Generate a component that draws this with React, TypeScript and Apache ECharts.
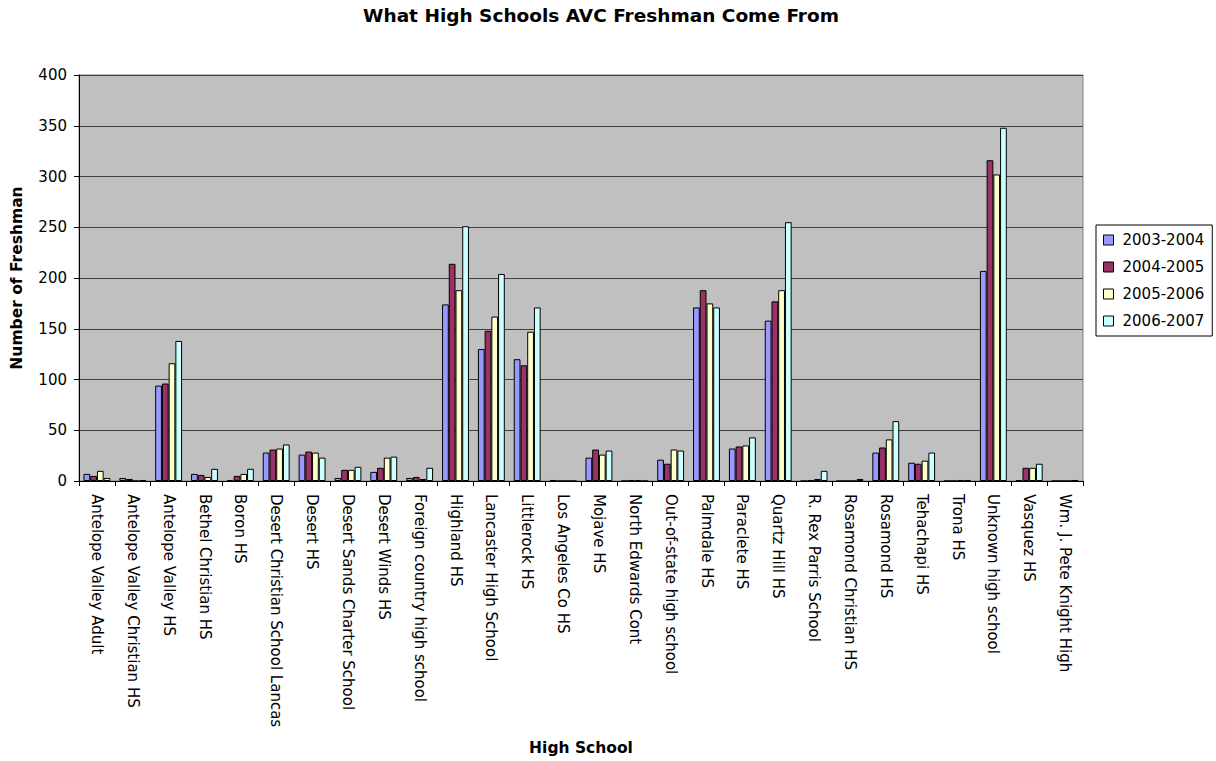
import React, { useEffect, useRef } from "react";
import * as echarts from "echarts";

const categories = [
  "Antelope Valley Adult",
  "Antelope Valley Christian HS",
  "Antelope Valley HS",
  "Bethel Christian HS",
  "Boron HS",
  "Desert Christian School Lancas",
  "Desert HS",
  "Desert Sands Charter School",
  "Desert Winds HS",
  "Foreign country high school",
  "Highland HS",
  "Lancaster High School",
  "Littlerock HS",
  "Los Angeles Co HS",
  "Mojave HS",
  "North Edwards Cont",
  "Out-of-state high school",
  "Palmdale HS",
  "Paraclete HS",
  "Quartz Hill HS",
  "R. Rex Parris School",
  "Rosamond Christian HS",
  "Rosamond HS",
  "Tehachapi HS",
  "Trona HS",
  "Unknown high school",
  "Vasquez HS",
  "Wm. J. Pete Knight High",
];

const s2003 = [7, 3, 94, 7, 1, 28, 26, 3, 9, 3, 174, 130, 120, 1, 23, 0, 21, 171, 32, 158, 0, 0, 28, 18, 0, 207, 1, 0];
const s2004 = [5, 2, 96, 6, 5, 31, 29, 11, 13, 4, 214, 148, 114, 0, 31, 1, 17, 188, 34, 177, 1, 0, 33, 17, 0, 316, 13, 0];
const s2005 = [10, 0, 116, 4, 7, 32, 28, 11, 23, 2, 188, 162, 147, 0, 26, 1, 31, 175, 35, 188, 2, 0, 41, 20, 1, 302, 13, 0];
const s2006 = [3, 1, 138, 12, 12, 36, 23, 14, 24, 13, 251, 204, 171, 0, 30, 0, 30, 171, 43, 255, 10, 2, 59, 28, 1, 348, 17, 1];

const seriesNames = ["2003-2004", "2004-2005", "2005-2006", "2006-2007"];
const seriesColors = ["#9999FF", "#993366", "#FFFFCC", "#CCFFFF"];
const seriesData = [s2003, s2004, s2005, s2006];

const FONT = "DejaVu Sans";

export default function App() {
  const ref = useRef<HTMLDivElement>(null);
  useEffect(() => {
    document.body.style.margin = "0";
    const chart = echarts.init(ref.current!, null, { renderer: "svg" });
    chart.setOption({
      animation: false,
      backgroundColor: "#FFFFFF",
      title: {
        text: "What High Schools AVC Freshman Come From",
        left: 596,
        textAlign: "center",
        top: 1,
        textStyle: { fontFamily: FONT, fontSize: 18.5, fontWeight: "bold", color: "#000" },
      },
      legend: {
        orient: "vertical",
        left: 1096,
        top: 225,
        backgroundColor: "#FFFFFF",
        borderColor: "#000",
        borderWidth: 1,
        borderRadius: 0,
        padding: [6, 8, 6, 7],
        itemGap: 9,
        itemWidth: 10,
        itemHeight: 10,
        icon: "rect",
        itemStyle: { borderColor: "#000", borderWidth: 1 },
        textStyle: { fontFamily: FONT, fontSize: 15, lineHeight: 18, color: "#000", padding: [0, 0, 0, 4] },
        data: seriesNames,
      },
      grid: {
        left: 79,
        right: 133,
        top: 75,
        bottom: 277,
        show: true,
        backgroundColor: "#C0C0C0",
        borderColor: "#808080",
        borderWidth: 1,
      },
      xAxis: {
        type: "category",
        data: categories,
        name: "High School",
        nameLocation: "middle",
        nameGap: 259,
        nameTextStyle: { fontFamily: FONT, fontSize: 15.5, fontWeight: "bold", color: "#000" },
        axisLine: { lineStyle: { color: "#000", width: 1 } },
        axisTick: { show: true, length: 5, lineStyle: { color: "#000" } },
        axisLabel: {
          rotate: -90,
          interval: 0,
          fontFamily: FONT,
          fontSize: 15,
          color: "#000",
          margin: 13,
        },
      },
      yAxis: {
        type: "value",
        min: 0,
        max: 400,
        interval: 50,
        name: "Number of Freshman",
        nameLocation: "middle",
        nameGap: 54,
        nameTextStyle: { fontFamily: FONT, fontSize: 15.5, fontWeight: "bold", color: "#000" },
        axisLine: { show: true, lineStyle: { color: "#000", width: 1 } },
        axisTick: { show: true, length: 5, lineStyle: { color: "#000" } },
        axisLabel: { fontFamily: FONT, fontSize: 15, color: "#000", margin: 12 },
        splitLine: { show: true, lineStyle: { color: "#404040", width: 1 } },
      },
      series: seriesNames.map((name, i) => ({
        name,
        type: "bar",
        data: seriesData[i],
        barGap: "0%",
        barCategoryGap: "25%",
        itemStyle: { color: seriesColors[i], borderColor: "#000", borderWidth: 1 },
      })),
    });
    return () => chart.dispose();
  }, []);
  return <div ref={ref} style={{ width: 1216, height: 761 }} />;
}
